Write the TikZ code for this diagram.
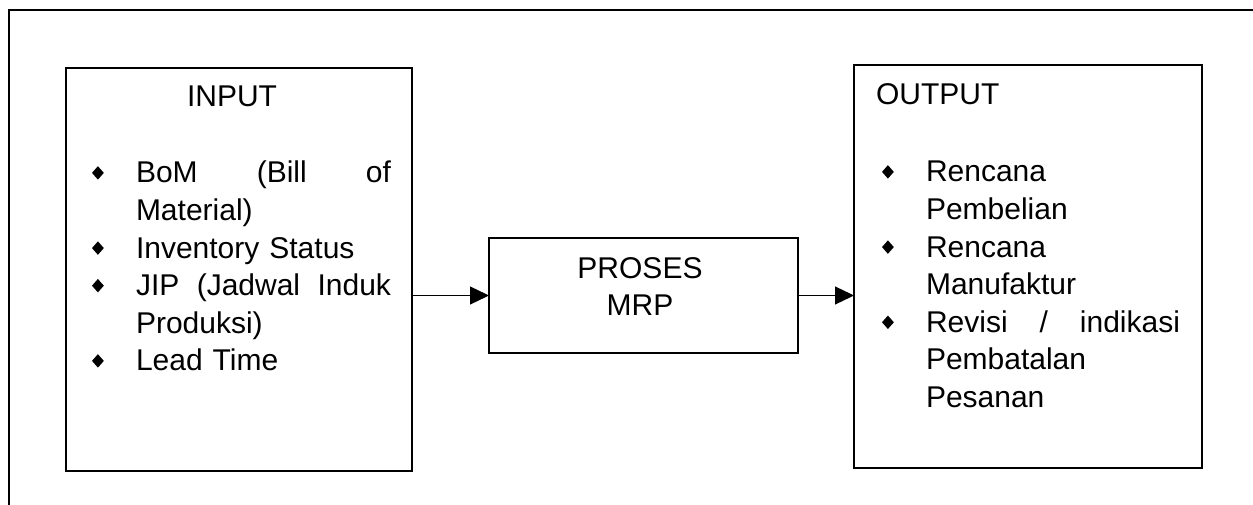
\documentclass[tikz,border=0pt]{standalone}
\usepackage{fontspec}
\setmainfont{Liberation Sans}
\usetikzlibrary{positioning, arrows.meta}
\newcommand{\dia}{\makebox[44pt][l]{\raisebox{3.4pt}{\scalebox{0.88}[1]{\rotatebox{45}{\rule{9.5pt}{9.5pt}}}}}}
\newcommand{\hang}{\hspace*{44pt}}
\tikzset{
	every node/.append style={
		inner sep=0pt,
		outer sep=0pt,
	},
	box/.append style={
		draw,
		line width=1.3pt,
	},
	txt/.append style={
		font={\fontsize{30}{37.6}\selectfont},
	},
	lst/.append style={
		txt,
		align=left,
		anchor=base west,
		text width=310pt,
	},
	flow/.append style={
		line width=1.3pt,
		-{Triangle[length=19pt, width=18pt]},
	},
}
\begin{document}
\begin{tikzpicture}[x=1pt, y=-1pt]
		\useasboundingbox (0,0) rectangle (1253,505);
		\draw[line width=2pt] (8.5,505) -- (8.5,10) -- (1253,10);

		\node(inbox)[box, minimum width=346pt, minimum height=403pt] at (239,269.5) {};
		\node(proc)[box, minimum width=309pt, minimum height=115pt] at (643.5,295.5) {};
		\node(outbox)[box, minimum width=348pt, minimum height=403pt] at (1028,266.5) {};

		\node(intitle)[txt, anchor=base] at (232,107) {INPUT};
		\node(outtitle)[txt, anchor=base west] at (876,105) {OUTPUT};
		\node(proctxt)[txt, text width=200pt, align=center, anchor=base] at (640,278) {PROSES\\MRP};

		\node(inlist)[lst] at (92,183) {\dia\makebox[255pt][l]{BoM\hfill(Bill\hfill of}\\
			\hang Material)\\
			\dia Inventory Status\\
			\dia\makebox[255pt][l]{JIP\hfill(Jadwal\hfill Induk}\\
			\hang Produksi)\\
			\dia Lead Time};
		\node(outlist)[lst] at (882,182) {\dia Rencana\\
			\hang Pembelian\\
			\dia Rencana\\
			\hang Manufaktur\\
			\dia\makebox[254pt][l]{Revisi\hfill /\hfill indikasi}\\
			\hang Pembatalan\\
			\hang Pesanan};

		\draw[flow] (inbox.east |- proc.west) -- (proc.west);
		\draw[flow] (proc.east) -- (outbox.west |- proc.east);
\end{tikzpicture}
\end{document}
